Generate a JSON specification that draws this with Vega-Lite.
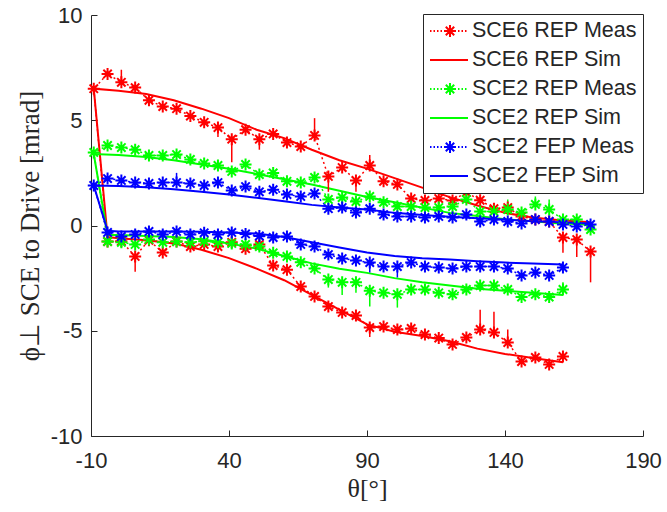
{
  "$schema": "https://vega.github.io/schema/vega-lite/v6.json",
  "width": 552,
  "height": 421,
  "autosize": {"type": "none"},
  "padding": {"left": 91, "top": 15, "right": 24, "bottom": 76},
  "background": "white",
  "config": {"view": {"stroke": null}, "font": "Liberation Sans"},
  "data": {"values": [
    {"n":"SCE6 REP Meas","i":0,"t":-9,"v":6.5},
    {"n":"SCE6 REP Meas","i":1,"t":-4,"v":7.2},
    {"n":"SCE6 REP Meas","i":2,"t":1,"v":6.8,"e":7.4},
    {"n":"SCE6 REP Meas","i":3,"t":6,"v":6.55},
    {"n":"SCE6 REP Meas","i":4,"t":11,"v":5.95},
    {"n":"SCE6 REP Meas","i":5,"t":16,"v":5.65},
    {"n":"SCE6 REP Meas","i":6,"t":21,"v":5.55},
    {"n":"SCE6 REP Meas","i":7,"t":26,"v":5.2},
    {"n":"SCE6 REP Meas","i":8,"t":31,"v":4.9},
    {"n":"SCE6 REP Meas","i":9,"t":36,"v":4.65,"e":4.2},
    {"n":"SCE6 REP Meas","i":10,"t":41,"v":4.1,"e":3.0},
    {"n":"SCE6 REP Meas","i":11,"t":46,"v":4.55},
    {"n":"SCE6 REP Meas","i":12,"t":51,"v":4.1,"e":3.6},
    {"n":"SCE6 REP Meas","i":13,"t":56,"v":4.35},
    {"n":"SCE6 REP Meas","i":14,"t":61,"v":3.94},
    {"n":"SCE6 REP Meas","i":15,"t":66,"v":3.75},
    {"n":"SCE6 REP Meas","i":16,"t":71,"v":4.28,"e":5.1},
    {"n":"SCE6 REP Meas","i":17,"t":76,"v":2.33,"e":1.6},
    {"n":"SCE6 REP Meas","i":18,"t":81,"v":2.75},
    {"n":"SCE6 REP Meas","i":19,"t":86,"v":2.14,"e":1.6},
    {"n":"SCE6 REP Meas","i":20,"t":91,"v":2.85,"e":3.35},
    {"n":"SCE6 REP Meas","i":21,"t":96,"v":2.1},
    {"n":"SCE6 REP Meas","i":22,"t":101,"v":1.95},
    {"n":"SCE6 REP Meas","i":23,"t":106,"v":1.28},
    {"n":"SCE6 REP Meas","i":24,"t":111,"v":1.19},
    {"n":"SCE6 REP Meas","i":25,"t":116,"v":1.28},
    {"n":"SCE6 REP Meas","i":26,"t":121,"v":1.19},
    {"n":"SCE6 REP Meas","i":27,"t":126,"v":1.57},
    {"n":"SCE6 REP Meas","i":28,"t":131,"v":1.2},
    {"n":"SCE6 REP Meas","i":29,"t":136,"v":0.8},
    {"n":"SCE6 REP Meas","i":30,"t":141,"v":0.85},
    {"n":"SCE6 REP Meas","i":31,"t":146,"v":0.43},
    {"n":"SCE6 REP Meas","i":32,"t":151,"v":0.28},
    {"n":"SCE6 REP Meas","i":33,"t":156,"v":0.19},
    {"n":"SCE6 REP Meas","i":34,"t":161,"v":-0.57,"e":-1.3},
    {"n":"SCE6 REP Meas","i":35,"t":166,"v":-0.67,"e":-1.5},
    {"n":"SCE6 REP Meas","i":36,"t":171,"v":-1.24,"e":-2.7},
    {"n":"SCE6 REP Meas","i":-1,"t":-4,"v":-0.76},
    {"n":"SCE6 REP Meas","i":-2,"t":1,"v":-0.75},
    {"n":"SCE6 REP Meas","i":-3,"t":6,"v":-1.47,"e":-2.2},
    {"n":"SCE6 REP Meas","i":-4,"t":11,"v":-0.7},
    {"n":"SCE6 REP Meas","i":-5,"t":16,"v":-1.28},
    {"n":"SCE6 REP Meas","i":-6,"t":21,"v":-0.76},
    {"n":"SCE6 REP Meas","i":-7,"t":26,"v":-1.0},
    {"n":"SCE6 REP Meas","i":-8,"t":31,"v":-0.9},
    {"n":"SCE6 REP Meas","i":-9,"t":36,"v":-1.0},
    {"n":"SCE6 REP Meas","i":-10,"t":41,"v":-0.8,"e":-0.3},
    {"n":"SCE6 REP Meas","i":-11,"t":46,"v":-1.1},
    {"n":"SCE6 REP Meas","i":-12,"t":51,"v":-0.9,"e":-0.3},
    {"n":"SCE6 REP Meas","i":-13,"t":56,"v":-1.9},
    {"n":"SCE6 REP Meas","i":-14,"t":61,"v":-2.1},
    {"n":"SCE6 REP Meas","i":-15,"t":66,"v":-2.9},
    {"n":"SCE6 REP Meas","i":-16,"t":71,"v":-3.37},
    {"n":"SCE6 REP Meas","i":-17,"t":76,"v":-3.85},
    {"n":"SCE6 REP Meas","i":-18,"t":81,"v":-4.13},
    {"n":"SCE6 REP Meas","i":-19,"t":86,"v":-4.28},
    {"n":"SCE6 REP Meas","i":-20,"t":91,"v":-4.85,"e":-5.3},
    {"n":"SCE6 REP Meas","i":-21,"t":96,"v":-4.8},
    {"n":"SCE6 REP Meas","i":-22,"t":101,"v":-4.94},
    {"n":"SCE6 REP Meas","i":-23,"t":106,"v":-4.89},
    {"n":"SCE6 REP Meas","i":-24,"t":111,"v":-5.18},
    {"n":"SCE6 REP Meas","i":-25,"t":116,"v":-5.35},
    {"n":"SCE6 REP Meas","i":-26,"t":121,"v":-5.65},
    {"n":"SCE6 REP Meas","i":-27,"t":126,"v":-5.32},
    {"n":"SCE6 REP Meas","i":-28,"t":131,"v":-4.94,"e":-4.0},
    {"n":"SCE6 REP Meas","i":-29,"t":136,"v":-5.08,"e":-4.1},
    {"n":"SCE6 REP Meas","i":-30,"t":141,"v":-5.56,"e":-4.94},
    {"n":"SCE6 REP Meas","i":-31,"t":146,"v":-6.46},
    {"n":"SCE6 REP Meas","i":-32,"t":151,"v":-6.27},
    {"n":"SCE6 REP Meas","i":-33,"t":156,"v":-6.6},
    {"n":"SCE6 REP Meas","i":-34,"t":161,"v":-6.22},

    {"n":"SCE2 REP Meas","i":0,"t":-9,"v":3.47},
    {"n":"SCE2 REP Meas","i":1,"t":-4,"v":3.8},
    {"n":"SCE2 REP Meas","i":2,"t":1,"v":3.7},
    {"n":"SCE2 REP Meas","i":3,"t":6,"v":3.6},
    {"n":"SCE2 REP Meas","i":4,"t":11,"v":3.33},
    {"n":"SCE2 REP Meas","i":5,"t":16,"v":3.33},
    {"n":"SCE2 REP Meas","i":6,"t":21,"v":3.37},
    {"n":"SCE2 REP Meas","i":7,"t":26,"v":3.14},
    {"n":"SCE2 REP Meas","i":8,"t":31,"v":2.95},
    {"n":"SCE2 REP Meas","i":9,"t":36,"v":2.85},
    {"n":"SCE2 REP Meas","i":10,"t":41,"v":2.57},
    {"n":"SCE2 REP Meas","i":11,"t":46,"v":2.9},
    {"n":"SCE2 REP Meas","i":12,"t":51,"v":2.42},
    {"n":"SCE2 REP Meas","i":13,"t":56,"v":2.5},
    {"n":"SCE2 REP Meas","i":14,"t":61,"v":2.1},
    {"n":"SCE2 REP Meas","i":15,"t":66,"v":2.04},
    {"n":"SCE2 REP Meas","i":16,"t":71,"v":2.28},
    {"n":"SCE2 REP Meas","i":17,"t":76,"v":1.24},
    {"n":"SCE2 REP Meas","i":18,"t":81,"v":1.33},
    {"n":"SCE2 REP Meas","i":19,"t":86,"v":1.14},
    {"n":"SCE2 REP Meas","i":20,"t":91,"v":1.38},
    {"n":"SCE2 REP Meas","i":21,"t":96,"v":1.1},
    {"n":"SCE2 REP Meas","i":22,"t":101,"v":0.9},
    {"n":"SCE2 REP Meas","i":23,"t":106,"v":0.9},
    {"n":"SCE2 REP Meas","i":24,"t":111,"v":0.85},
    {"n":"SCE2 REP Meas","i":25,"t":116,"v":0.85},
    {"n":"SCE2 REP Meas","i":26,"t":121,"v":0.9},
    {"n":"SCE2 REP Meas","i":27,"t":126,"v":1.24},
    {"n":"SCE2 REP Meas","i":28,"t":131,"v":0.66},
    {"n":"SCE2 REP Meas","i":29,"t":136,"v":0.66},
    {"n":"SCE2 REP Meas","i":30,"t":141,"v":0.76,"e":1.24},
    {"n":"SCE2 REP Meas","i":31,"t":146,"v":0.62},
    {"n":"SCE2 REP Meas","i":32,"t":151,"v":1.0,"e":1.38},
    {"n":"SCE2 REP Meas","i":33,"t":156,"v":0.76,"e":1.24},
    {"n":"SCE2 REP Meas","i":34,"t":161,"v":0.28},
    {"n":"SCE2 REP Meas","i":35,"t":166,"v":0.28},
    {"n":"SCE2 REP Meas","i":36,"t":171,"v":-0.19},
    {"n":"SCE2 REP Meas","i":-1,"t":-4,"v":-0.76},
    {"n":"SCE2 REP Meas","i":-2,"t":1,"v":-0.8},
    {"n":"SCE2 REP Meas","i":-3,"t":6,"v":-0.9},
    {"n":"SCE2 REP Meas","i":-4,"t":11,"v":-0.66},
    {"n":"SCE2 REP Meas","i":-5,"t":16,"v":-0.8},
    {"n":"SCE2 REP Meas","i":-6,"t":21,"v":-0.76},
    {"n":"SCE2 REP Meas","i":-7,"t":26,"v":-0.8},
    {"n":"SCE2 REP Meas","i":-8,"t":31,"v":-0.75},
    {"n":"SCE2 REP Meas","i":-9,"t":36,"v":-0.8},
    {"n":"SCE2 REP Meas","i":-10,"t":41,"v":-0.85},
    {"n":"SCE2 REP Meas","i":-11,"t":46,"v":-0.9},
    {"n":"SCE2 REP Meas","i":-12,"t":51,"v":-1.0},
    {"n":"SCE2 REP Meas","i":-13,"t":56,"v":-1.3},
    {"n":"SCE2 REP Meas","i":-14,"t":61,"v":-1.47},
    {"n":"SCE2 REP Meas","i":-15,"t":66,"v":-1.75},
    {"n":"SCE2 REP Meas","i":-16,"t":71,"v":-2.04},
    {"n":"SCE2 REP Meas","i":-17,"t":76,"v":-2.57,"e":-2.95},
    {"n":"SCE2 REP Meas","i":-18,"t":81,"v":-2.7,"e":-3.3},
    {"n":"SCE2 REP Meas","i":-19,"t":86,"v":-2.7,"e":-3.2},
    {"n":"SCE2 REP Meas","i":-20,"t":91,"v":-3.1,"e":-3.85},
    {"n":"SCE2 REP Meas","i":-21,"t":96,"v":-3.2},
    {"n":"SCE2 REP Meas","i":-22,"t":101,"v":-3.27,"e":-3.9},
    {"n":"SCE2 REP Meas","i":-23,"t":106,"v":-3.04},
    {"n":"SCE2 REP Meas","i":-24,"t":111,"v":-3.04},
    {"n":"SCE2 REP Meas","i":-25,"t":116,"v":-3.2},
    {"n":"SCE2 REP Meas","i":-26,"t":121,"v":-3.27},
    {"n":"SCE2 REP Meas","i":-27,"t":126,"v":-3.04},
    {"n":"SCE2 REP Meas","i":-28,"t":131,"v":-2.85},
    {"n":"SCE2 REP Meas","i":-29,"t":136,"v":-2.85},
    {"n":"SCE2 REP Meas","i":-30,"t":141,"v":-3.04},
    {"n":"SCE2 REP Meas","i":-31,"t":146,"v":-3.4},
    {"n":"SCE2 REP Meas","i":-32,"t":151,"v":-3.27},
    {"n":"SCE2 REP Meas","i":-33,"t":156,"v":-3.4},
    {"n":"SCE2 REP Meas","i":-34,"t":161,"v":-3.04,"e":-2.7},

    {"n":"SCE2 FEP Meas","i":0,"t":-9,"v":1.9},
    {"n":"SCE2 FEP Meas","i":1,"t":-4,"v":2.23},
    {"n":"SCE2 FEP Meas","i":2,"t":1,"v":2.14},
    {"n":"SCE2 FEP Meas","i":3,"t":6,"v":2.04},
    {"n":"SCE2 FEP Meas","i":4,"t":11,"v":2.0},
    {"n":"SCE2 FEP Meas","i":5,"t":16,"v":2.04},
    {"n":"SCE2 FEP Meas","i":6,"t":21,"v":2.04,"e":2.5},
    {"n":"SCE2 FEP Meas","i":7,"t":26,"v":2.0},
    {"n":"SCE2 FEP Meas","i":8,"t":31,"v":1.9},
    {"n":"SCE2 FEP Meas","i":9,"t":36,"v":2.04},
    {"n":"SCE2 FEP Meas","i":10,"t":41,"v":1.66},
    {"n":"SCE2 FEP Meas","i":11,"t":46,"v":1.85},
    {"n":"SCE2 FEP Meas","i":12,"t":51,"v":1.6},
    {"n":"SCE2 FEP Meas","i":13,"t":56,"v":1.7},
    {"n":"SCE2 FEP Meas","i":14,"t":61,"v":1.47},
    {"n":"SCE2 FEP Meas","i":15,"t":66,"v":1.38},
    {"n":"SCE2 FEP Meas","i":16,"t":71,"v":1.52},
    {"n":"SCE2 FEP Meas","i":17,"t":76,"v":0.8},
    {"n":"SCE2 FEP Meas","i":18,"t":81,"v":0.85},
    {"n":"SCE2 FEP Meas","i":19,"t":86,"v":0.62},
    {"n":"SCE2 FEP Meas","i":20,"t":91,"v":0.8},
    {"n":"SCE2 FEP Meas","i":21,"t":96,"v":0.52},
    {"n":"SCE2 FEP Meas","i":22,"t":101,"v":0.43},
    {"n":"SCE2 FEP Meas","i":23,"t":106,"v":0.43},
    {"n":"SCE2 FEP Meas","i":24,"t":111,"v":0.38},
    {"n":"SCE2 FEP Meas","i":25,"t":116,"v":0.43},
    {"n":"SCE2 FEP Meas","i":26,"t":121,"v":0.38},
    {"n":"SCE2 FEP Meas","i":27,"t":126,"v":0.52},
    {"n":"SCE2 FEP Meas","i":28,"t":131,"v":0.19},
    {"n":"SCE2 FEP Meas","i":29,"t":136,"v":0.28},
    {"n":"SCE2 FEP Meas","i":30,"t":141,"v":0.19},
    {"n":"SCE2 FEP Meas","i":31,"t":146,"v":0.1},
    {"n":"SCE2 FEP Meas","i":32,"t":151,"v":0.28},
    {"n":"SCE2 FEP Meas","i":33,"t":156,"v":0.19},
    {"n":"SCE2 FEP Meas","i":34,"t":161,"v":0.05},
    {"n":"SCE2 FEP Meas","i":35,"t":166,"v":-0.05},
    {"n":"SCE2 FEP Meas","i":36,"t":171,"v":0.05},
    {"n":"SCE2 FEP Meas","i":-1,"t":-4,"v":-0.33},
    {"n":"SCE2 FEP Meas","i":-2,"t":1,"v":-0.52},
    {"n":"SCE2 FEP Meas","i":-3,"t":6,"v":-0.43},
    {"n":"SCE2 FEP Meas","i":-4,"t":11,"v":-0.28},
    {"n":"SCE2 FEP Meas","i":-5,"t":16,"v":-0.43},
    {"n":"SCE2 FEP Meas","i":-6,"t":21,"v":-0.28},
    {"n":"SCE2 FEP Meas","i":-7,"t":26,"v":-0.43},
    {"n":"SCE2 FEP Meas","i":-8,"t":31,"v":-0.35},
    {"n":"SCE2 FEP Meas","i":-9,"t":36,"v":-0.43},
    {"n":"SCE2 FEP Meas","i":-10,"t":41,"v":-0.33},
    {"n":"SCE2 FEP Meas","i":-11,"t":46,"v":-0.4},
    {"n":"SCE2 FEP Meas","i":-12,"t":51,"v":-0.5},
    {"n":"SCE2 FEP Meas","i":-13,"t":56,"v":-0.57},
    {"n":"SCE2 FEP Meas","i":-14,"t":61,"v":-0.52},
    {"n":"SCE2 FEP Meas","i":-15,"t":66,"v":-0.9},
    {"n":"SCE2 FEP Meas","i":-16,"t":71,"v":-1.0},
    {"n":"SCE2 FEP Meas","i":-17,"t":76,"v":-1.38},
    {"n":"SCE2 FEP Meas","i":-18,"t":81,"v":-1.57},
    {"n":"SCE2 FEP Meas","i":-19,"t":86,"v":-1.66},
    {"n":"SCE2 FEP Meas","i":-20,"t":91,"v":-1.76,"e":-2.23},
    {"n":"SCE2 FEP Meas","i":-21,"t":96,"v":-1.95},
    {"n":"SCE2 FEP Meas","i":-22,"t":101,"v":-1.95,"e":-2.47},
    {"n":"SCE2 FEP Meas","i":-23,"t":106,"v":-1.76},
    {"n":"SCE2 FEP Meas","i":-24,"t":111,"v":-1.95},
    {"n":"SCE2 FEP Meas","i":-25,"t":116,"v":-2.0},
    {"n":"SCE2 FEP Meas","i":-26,"t":121,"v":-2.04},
    {"n":"SCE2 FEP Meas","i":-27,"t":126,"v":-1.95},
    {"n":"SCE2 FEP Meas","i":-28,"t":131,"v":-1.95},
    {"n":"SCE2 FEP Meas","i":-29,"t":136,"v":-1.95},
    {"n":"SCE2 FEP Meas","i":-30,"t":141,"v":-2.04},
    {"n":"SCE2 FEP Meas","i":-31,"t":146,"v":-2.37},
    {"n":"SCE2 FEP Meas","i":-32,"t":151,"v":-2.23},
    {"n":"SCE2 FEP Meas","i":-33,"t":156,"v":-2.37,"e":-2.6},
    {"n":"SCE2 FEP Meas","i":-34,"t":161,"v":-2.0},

    {"n":"SCE6 REP Sim","i":0,"t":-9,"v":6.5},
    {"n":"SCE6 REP Sim","i":1,"t":0,"v":6.4},
    {"n":"SCE6 REP Sim","i":2,"t":10,"v":6.25},
    {"n":"SCE6 REP Sim","i":3,"t":20,"v":5.95},
    {"n":"SCE6 REP Sim","i":4,"t":30,"v":5.55},
    {"n":"SCE6 REP Sim","i":5,"t":40,"v":5.1},
    {"n":"SCE6 REP Sim","i":6,"t":50,"v":4.55},
    {"n":"SCE6 REP Sim","i":7,"t":60,"v":4.15},
    {"n":"SCE6 REP Sim","i":8,"t":70,"v":3.6},
    {"n":"SCE6 REP Sim","i":9,"t":80,"v":3.1},
    {"n":"SCE6 REP Sim","i":10,"t":90,"v":2.7},
    {"n":"SCE6 REP Sim","i":11,"t":100,"v":2.25},
    {"n":"SCE6 REP Sim","i":12,"t":110,"v":1.8},
    {"n":"SCE6 REP Sim","i":13,"t":120,"v":1.35},
    {"n":"SCE6 REP Sim","i":14,"t":130,"v":0.95},
    {"n":"SCE6 REP Sim","i":15,"t":140,"v":0.6},
    {"n":"SCE6 REP Sim","i":16,"t":150,"v":0.38},
    {"n":"SCE6 REP Sim","i":17,"t":160,"v":0.25},
    {"n":"SCE6 REP Sim","i":18,"t":171,"v":0.15},
    {"n":"SCE6 REP Sim","i":-1,"t":-4,"v":-0.55},
    {"n":"SCE6 REP Sim","i":-2,"t":0,"v":-0.6},
    {"n":"SCE6 REP Sim","i":-3,"t":10,"v":-0.7},
    {"n":"SCE6 REP Sim","i":-4,"t":20,"v":-0.85},
    {"n":"SCE6 REP Sim","i":-5,"t":30,"v":-1.15},
    {"n":"SCE6 REP Sim","i":-6,"t":40,"v":-1.55},
    {"n":"SCE6 REP Sim","i":-7,"t":50,"v":-2.05},
    {"n":"SCE6 REP Sim","i":-8,"t":60,"v":-2.6},
    {"n":"SCE6 REP Sim","i":-9,"t":70,"v":-3.3},
    {"n":"SCE6 REP Sim","i":-10,"t":80,"v":-4.0},
    {"n":"SCE6 REP Sim","i":-11,"t":90,"v":-4.7},
    {"n":"SCE6 REP Sim","i":-12,"t":100,"v":-5.05},
    {"n":"SCE6 REP Sim","i":-13,"t":110,"v":-5.25},
    {"n":"SCE6 REP Sim","i":-14,"t":120,"v":-5.5},
    {"n":"SCE6 REP Sim","i":-15,"t":130,"v":-5.85},
    {"n":"SCE6 REP Sim","i":-16,"t":140,"v":-6.1},
    {"n":"SCE6 REP Sim","i":-17,"t":150,"v":-6.3},
    {"n":"SCE6 REP Sim","i":-18,"t":161,"v":-6.5},

    {"n":"SCE2 REP Sim","i":0,"t":-9,"v":3.4},
    {"n":"SCE2 REP Sim","i":1,"t":0,"v":3.35},
    {"n":"SCE2 REP Sim","i":2,"t":10,"v":3.25},
    {"n":"SCE2 REP Sim","i":3,"t":20,"v":3.1},
    {"n":"SCE2 REP Sim","i":4,"t":30,"v":2.9},
    {"n":"SCE2 REP Sim","i":5,"t":40,"v":2.7},
    {"n":"SCE2 REP Sim","i":6,"t":50,"v":2.45},
    {"n":"SCE2 REP Sim","i":7,"t":60,"v":2.2},
    {"n":"SCE2 REP Sim","i":8,"t":70,"v":1.95},
    {"n":"SCE2 REP Sim","i":9,"t":80,"v":1.65},
    {"n":"SCE2 REP Sim","i":10,"t":90,"v":1.35},
    {"n":"SCE2 REP Sim","i":11,"t":100,"v":1.1},
    {"n":"SCE2 REP Sim","i":12,"t":110,"v":0.85},
    {"n":"SCE2 REP Sim","i":13,"t":120,"v":0.6},
    {"n":"SCE2 REP Sim","i":14,"t":130,"v":0.45},
    {"n":"SCE2 REP Sim","i":15,"t":140,"v":0.3},
    {"n":"SCE2 REP Sim","i":16,"t":150,"v":0.2},
    {"n":"SCE2 REP Sim","i":17,"t":160,"v":0.1},
    {"n":"SCE2 REP Sim","i":18,"t":171,"v":0.05},
    {"n":"SCE2 REP Sim","i":-1,"t":-4,"v":-0.45},
    {"n":"SCE2 REP Sim","i":-2,"t":0,"v":-0.45},
    {"n":"SCE2 REP Sim","i":-3,"t":10,"v":-0.5},
    {"n":"SCE2 REP Sim","i":-4,"t":20,"v":-0.55},
    {"n":"SCE2 REP Sim","i":-5,"t":30,"v":-0.65},
    {"n":"SCE2 REP Sim","i":-6,"t":40,"v":-0.85},
    {"n":"SCE2 REP Sim","i":-7,"t":50,"v":-1.1},
    {"n":"SCE2 REP Sim","i":-8,"t":60,"v":-1.45},
    {"n":"SCE2 REP Sim","i":-9,"t":70,"v":-1.8},
    {"n":"SCE2 REP Sim","i":-10,"t":80,"v":-2.05},
    {"n":"SCE2 REP Sim","i":-11,"t":90,"v":-2.25},
    {"n":"SCE2 REP Sim","i":-12,"t":100,"v":-2.5},
    {"n":"SCE2 REP Sim","i":-13,"t":110,"v":-2.7},
    {"n":"SCE2 REP Sim","i":-14,"t":120,"v":-2.85},
    {"n":"SCE2 REP Sim","i":-15,"t":130,"v":-3.0},
    {"n":"SCE2 REP Sim","i":-16,"t":140,"v":-3.1},
    {"n":"SCE2 REP Sim","i":-17,"t":150,"v":-3.2},
    {"n":"SCE2 REP Sim","i":-18,"t":161,"v":-3.3},

    {"n":"SCE2 FEP Sim","i":0,"t":-9,"v":1.9},
    {"n":"SCE2 FEP Sim","i":1,"t":0,"v":1.88},
    {"n":"SCE2 FEP Sim","i":2,"t":10,"v":1.82},
    {"n":"SCE2 FEP Sim","i":3,"t":20,"v":1.72},
    {"n":"SCE2 FEP Sim","i":4,"t":30,"v":1.6},
    {"n":"SCE2 FEP Sim","i":5,"t":40,"v":1.47},
    {"n":"SCE2 FEP Sim","i":6,"t":50,"v":1.32},
    {"n":"SCE2 FEP Sim","i":7,"t":60,"v":1.15},
    {"n":"SCE2 FEP Sim","i":8,"t":70,"v":0.98},
    {"n":"SCE2 FEP Sim","i":9,"t":80,"v":0.85},
    {"n":"SCE2 FEP Sim","i":10,"t":90,"v":0.76},
    {"n":"SCE2 FEP Sim","i":11,"t":100,"v":0.6},
    {"n":"SCE2 FEP Sim","i":12,"t":110,"v":0.5},
    {"n":"SCE2 FEP Sim","i":13,"t":120,"v":0.42},
    {"n":"SCE2 FEP Sim","i":14,"t":130,"v":0.35},
    {"n":"SCE2 FEP Sim","i":15,"t":140,"v":0.28},
    {"n":"SCE2 FEP Sim","i":16,"t":150,"v":0.2},
    {"n":"SCE2 FEP Sim","i":17,"t":160,"v":0.15},
    {"n":"SCE2 FEP Sim","i":18,"t":171,"v":0.1},
    {"n":"SCE2 FEP Sim","i":-1,"t":-4,"v":-0.25},
    {"n":"SCE2 FEP Sim","i":-2,"t":0,"v":-0.28},
    {"n":"SCE2 FEP Sim","i":-3,"t":10,"v":-0.28},
    {"n":"SCE2 FEP Sim","i":-4,"t":20,"v":-0.28},
    {"n":"SCE2 FEP Sim","i":-5,"t":30,"v":-0.3},
    {"n":"SCE2 FEP Sim","i":-6,"t":40,"v":-0.33},
    {"n":"SCE2 FEP Sim","i":-7,"t":50,"v":-0.38},
    {"n":"SCE2 FEP Sim","i":-8,"t":60,"v":-0.55},
    {"n":"SCE2 FEP Sim","i":-9,"t":70,"v":-0.8},
    {"n":"SCE2 FEP Sim","i":-10,"t":80,"v":-1.05},
    {"n":"SCE2 FEP Sim","i":-11,"t":90,"v":-1.28},
    {"n":"SCE2 FEP Sim","i":-12,"t":100,"v":-1.45},
    {"n":"SCE2 FEP Sim","i":-13,"t":110,"v":-1.55},
    {"n":"SCE2 FEP Sim","i":-14,"t":120,"v":-1.62},
    {"n":"SCE2 FEP Sim","i":-15,"t":130,"v":-1.7},
    {"n":"SCE2 FEP Sim","i":-16,"t":140,"v":-1.76},
    {"n":"SCE2 FEP Sim","i":-17,"t":150,"v":-1.8},
    {"n":"SCE2 FEP Sim","i":-18,"t":161,"v":-1.85}
  ]},
  "encoding": {
    "x": {"field": "t", "type": "quantitative",
      "scale": {"domain": [-10, 190], "nice": false, "zero": false},
      "axis": {"values": [-10, 40, 90, 140, 190], "title": "θ[°]", "grid": false,
        "labelExpr": "datum.value < 0 ? '-' + abs(datum.value) : '' + datum.value",
        "titleFont": "Liberation Serif", "titleFontSize": 26, "titleFontWeight": "normal", "titleColor": "#262626", "titlePadding": 4,
        "labelFont": "Liberation Sans", "labelFontSize": 22, "labelColor": "#262626", "labelPadding": 20, "labelFlush": false,
        "domainColor": "#262626", "tickColor": "#262626", "tickSize": -6}},
    "y": {"field": "v", "type": "quantitative",
      "scale": {"domain": [-10, 10], "nice": false, "zero": false},
      "axis": {"values": [-10, -5, 0, 5, 10], "title": "ϕ⊥ SCE to Drive [mrad]", "grid": false,
        "labelExpr": "datum.value < 0 ? '-' + abs(datum.value) : '' + datum.value",
        "titleFont": "Liberation Serif", "titleFontSize": 27, "titleFontWeight": "normal", "titleColor": "#262626", "titlePadding": 6,
        "labelFont": "Liberation Sans", "labelFontSize": 22, "labelColor": "#262626", "labelPadding": 15,
        "domainColor": "#262626", "tickColor": "#262626", "tickSize": -6}},
    "color": {"field": "n", "type": "nominal",
      "scale": {"domain": ["SCE6 REP Meas", "SCE6 REP Sim", "SCE2 REP Meas", "SCE2 REP Sim", "SCE2 FEP Meas", "SCE2 FEP Sim"],
                "range": ["#ff0000", "#ff0000", "#00ff00", "#00ff00", "#0000ff", "#0000ff"]},
      "legend": {"title": null, "orient": "none", "legendX": 332, "legendY": -1,
        "padding": 6, "strokeColor": "#262626", "fillColor": "white",
        "labelFont": "Liberation Sans", "labelFontSize": 21.5, "labelColor": "#262626", "labelLimit": 400,
        "symbolSize": 400, "rowPadding": 7, "labelOffset": 21, "symbolStrokeWidth": 2,
        "encode": {"symbols": {"update": {
          "shape": {"signal": "test(/Meas/, datum.value) ? 'M-1,0H-0.85M-0.65,0H-0.5M-0.3,0H-0.15M0.05,0H0.2M0.4,0H1.6M1,-0.6V0.6M0.58,-0.42L1.42,0.42M0.58,0.42L1.42,-0.42M1.8,0H1.95M2.15,0H2.3M2.5,0H2.65' : 'M-1,0H2.8'"},
          "fill": {"value": "transparent"},
          "stroke": {"scale": "color", "field": "value"},
          "strokeWidth": {"value": 2},
          "opacity": {"value": 1}}}}}}
  },
  "layer": [
    {"transform": [{"filter": "test(/Meas/, datum.n)"}],
     "mark": {"type": "line", "strokeDash": [2, 3], "strokeWidth": 1.5},
     "encoding": {"order": {"field": "i", "type": "quantitative"}}},
    {"transform": [{"filter": "test(/Sim/, datum.n)"}],
     "mark": {"type": "line", "strokeWidth": 2},
     "encoding": {"order": {"field": "i", "type": "quantitative"}}},
    {"transform": [{"filter": "isValid(datum.e)"}],
     "mark": {"type": "rule", "strokeWidth": 1.5},
     "encoding": {"y2": {"field": "e"}}},
    {"transform": [{"filter": "test(/Meas/, datum.n)"}],
     "mark": {"type": "point", "filled": false, "opacity": 1, "strokeWidth": 2, "size": 144,
              "shape": "M-1,0H1M0,-1V1M-0.7,-0.7L0.7,0.7M-0.7,0.7L0.7,-0.7"}}
  ]
}
